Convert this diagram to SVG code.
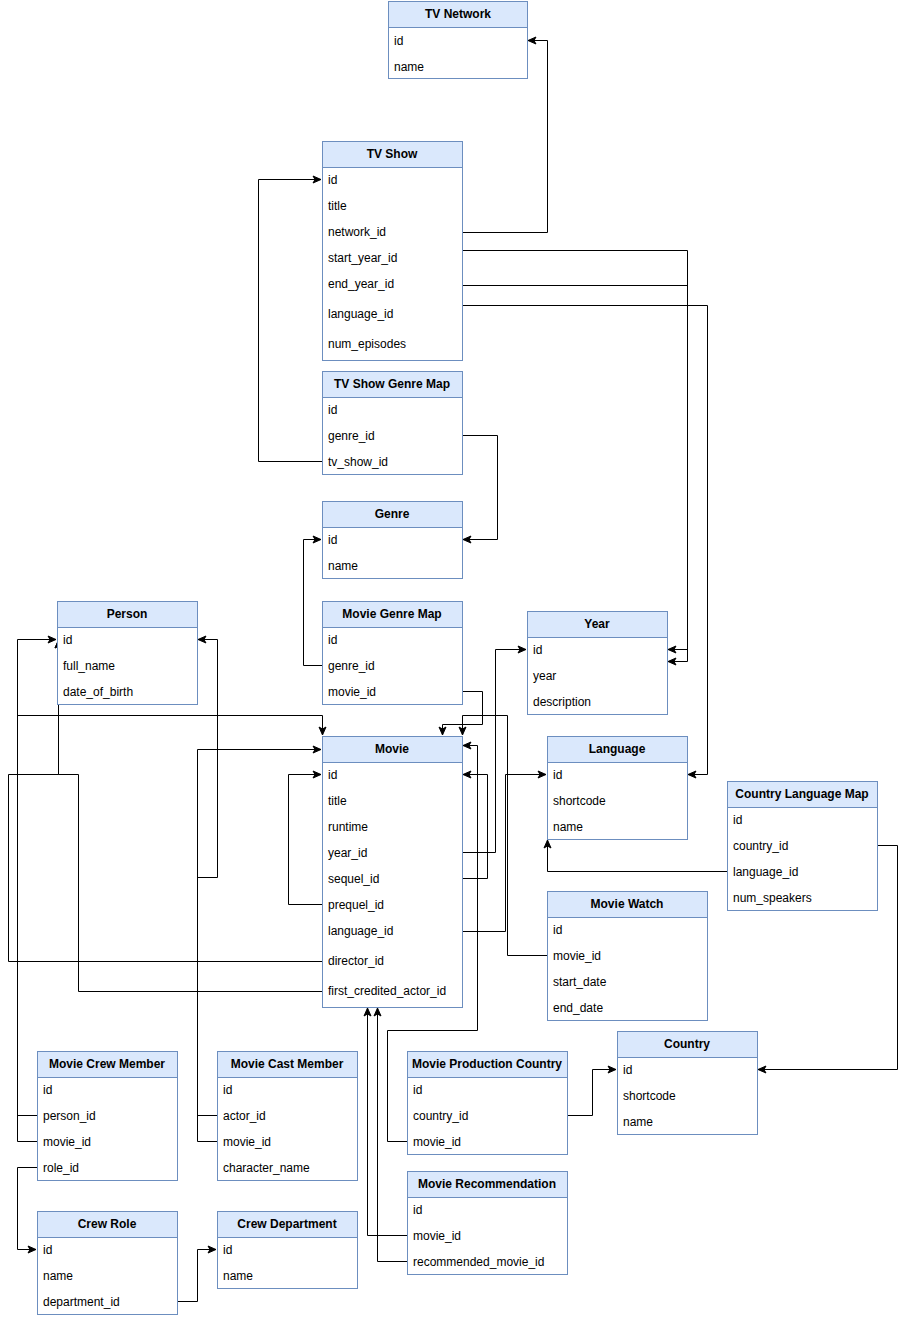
<svg xmlns="http://www.w3.org/2000/svg" width="906" height="1318" viewBox="0 0 906 1318">
<defs>
<marker id="arr" markerUnits="userSpaceOnUse" markerWidth="10" markerHeight="10" refX="9" refY="5" orient="auto">
<path d="M1,1.5 L9,5 L1,8.5 L3,5 Z" fill="#000" stroke="#000" stroke-width="1"/>
</marker>
<style>
.hd{fill:#dae8fc;stroke:#6c8ebf;stroke-width:1}
.bd{fill:#fff;stroke:#6c8ebf;stroke-width:1}
.t{font-family:"Liberation Sans",Arial,sans-serif;font-size:12px;fill:#000}
.h{font-family:"Liberation Sans",Arial,sans-serif;font-size:12px;font-weight:bold;fill:#000;text-anchor:middle}
.c{fill:none;stroke:#000;stroke-width:1;marker-end:url(#arr)}
</style>
</defs>
<rect width="906" height="1318" fill="#fff"/>

<g id="connectors">
<path class="c" d="M462.5,232.5 H547.5 V40.5 H528"/>
<path class="c" d="M462.5,250.5 H687.5 V649.5 H668"/>
<path class="c" d="M462.5,285.5 H687.5 V661.5 H668"/>
<path class="c" d="M462.5,305.5 H707.5 V774.5 H688"/>
<path class="c" d="M462.5,435.5 H497.5 V539.5 H463"/>
<path class="c" d="M322.5,461.5 H258.5 V179.5 H321"/>
<path class="c" d="M322.5,665.5 H303.5 V539.5 H321"/>
<path class="c" d="M462.5,691.5 H482.5 V724.5 H442.5 V735"/>
<path class="c" d="M547.5,955.5 H507.5 V715.5 H462.5 V735"/>
<path class="c" d="M462.5,852.5 H495.5 V649.5 H526"/>
<path class="c" d="M462.5,931.5 H505.5 V774.5 H546"/>
<path class="c" d="M462.5,878.5 H487.5 V774.5 H463"/>
<path class="c" d="M322.5,904.5 H288.5 V774.5 H321"/>
<path class="c" d="M322.5,961.5 H8.5 V774.5 H58.5 V640"/>
<path class="c" d="M322.5,991.5 H78.5 V774.5 H58.5 V640"/>
<path class="c" d="M407.5,1141.5 H387.5 V1030.5 H477.5 V745.5 H463"/>
<path class="c" d="M567.5,1115.5 H592.5 V1069.5 H616"/>
<path class="c" d="M877.5,845.5 H897.5 V1069.5 H758"/>
<path class="c" d="M727.5,871.5 H547.5 V840"/>
<path class="c" d="M37.5,1115.5 H17.5 V639.5 H56"/>
<path class="c" d="M37.5,1141.5 H17.5 V715.5 H322.5 V735"/>
<path class="c" d="M37.5,1167.5 H17.5 V1249.5 H36"/>
<path class="c" d="M217.5,1115.5 H197.5 V877.5 H217.5 V639.5 H198"/>
<path class="c" d="M217.5,1141.5 H197.5 V749.5 H321"/>
<path class="c" d="M177.5,1301.5 H197.5 V1249.5 H216"/>
<path class="c" d="M407.5,1235.5 H367.5 V1008"/>
<path class="c" d="M407.5,1261.5 H377.5 V1008"/>
</g>

<g id="tv_network">
<rect class="bd" x="388.5" y="1.5" width="139" height="77"/>
<rect class="hd" x="388.5" y="1.5" width="139" height="26"/>
<text class="h" x="458" y="18">TV Network</text>
<text class="t" x="394" y="45">id</text>
<text class="t" x="394" y="71">name</text>
</g>

<g id="tv_show">
<rect class="bd" x="322.5" y="141.5" width="140" height="219"/>
<rect class="hd" x="322.5" y="141.5" width="140" height="26"/>
<text class="h" x="392" y="158">TV Show</text>
<text class="t" x="328" y="184">id</text>
<text class="t" x="328" y="210">title</text>
<text class="t" x="328" y="236">network_id</text>
<text class="t" x="328" y="262">start_year_id</text>
<text class="t" x="328" y="288">end_year_id</text>
<text class="t" x="328" y="318">language_id</text>
<text class="t" x="328" y="348">num_episodes</text>
</g>

<g id="tv_show_genre_map">
<rect class="bd" x="322.5" y="371.5" width="140" height="103"/>
<rect class="hd" x="322.5" y="371.5" width="140" height="26"/>
<text class="h" x="392" y="388">TV Show Genre Map</text>
<text class="t" x="328" y="414">id</text>
<text class="t" x="328" y="440">genre_id</text>
<text class="t" x="328" y="466">tv_show_id</text>
</g>

<g id="genre">
<rect class="bd" x="322.5" y="501.5" width="140" height="77"/>
<rect class="hd" x="322.5" y="501.5" width="140" height="26"/>
<text class="h" x="392" y="518">Genre</text>
<text class="t" x="328" y="544">id</text>
<text class="t" x="328" y="570">name</text>
</g>

<g id="movie_genre_map">
<rect class="bd" x="322.5" y="601.5" width="140" height="103"/>
<rect class="hd" x="322.5" y="601.5" width="140" height="26"/>
<text class="h" x="392" y="618">Movie Genre Map</text>
<text class="t" x="328" y="644">id</text>
<text class="t" x="328" y="670">genre_id</text>
<text class="t" x="328" y="696">movie_id</text>
</g>

<g id="person">
<rect class="bd" x="57.5" y="601.5" width="140" height="103"/>
<rect class="hd" x="57.5" y="601.5" width="140" height="26"/>
<text class="h" x="127" y="618">Person</text>
<text class="t" x="63" y="644">id</text>
<text class="t" x="63" y="670">full_name</text>
<text class="t" x="63" y="696">date_of_birth</text>
</g>

<g id="year">
<rect class="bd" x="527.5" y="611.5" width="140" height="103"/>
<rect class="hd" x="527.5" y="611.5" width="140" height="26"/>
<text class="h" x="597" y="628">Year</text>
<text class="t" x="533" y="654">id</text>
<text class="t" x="533" y="680">year</text>
<text class="t" x="533" y="706">description</text>
</g>

<g id="movie">
<rect class="bd" x="322.5" y="736.5" width="140" height="271"/>
<rect class="hd" x="322.5" y="736.5" width="140" height="26"/>
<text class="h" x="392" y="753">Movie</text>
<text class="t" x="328" y="779">id</text>
<text class="t" x="328" y="805">title</text>
<text class="t" x="328" y="831">runtime</text>
<text class="t" x="328" y="857">year_id</text>
<text class="t" x="328" y="883">sequel_id</text>
<text class="t" x="328" y="909">prequel_id</text>
<text class="t" x="328" y="935">language_id</text>
<text class="t" x="328" y="965">director_id</text>
<text class="t" x="328" y="995">first_credited_actor_id</text>
</g>

<g id="language">
<rect class="bd" x="547.5" y="736.5" width="140" height="103"/>
<rect class="hd" x="547.5" y="736.5" width="140" height="26"/>
<text class="h" x="617" y="753">Language</text>
<text class="t" x="553" y="779">id</text>
<text class="t" x="553" y="805">shortcode</text>
<text class="t" x="553" y="831">name</text>
</g>

<g id="country_language_map">
<rect class="bd" x="727.5" y="781.5" width="150" height="129"/>
<rect class="hd" x="727.5" y="781.5" width="150" height="26"/>
<text class="h" x="802" y="798">Country Language Map</text>
<text class="t" x="733" y="824">id</text>
<text class="t" x="733" y="850">country_id</text>
<text class="t" x="733" y="876">language_id</text>
<text class="t" x="733" y="902">num_speakers</text>
</g>

<g id="movie_watch">
<rect class="bd" x="547.5" y="891.5" width="160" height="129"/>
<rect class="hd" x="547.5" y="891.5" width="160" height="26"/>
<text class="h" x="627" y="908">Movie Watch</text>
<text class="t" x="553" y="934">id</text>
<text class="t" x="553" y="960">movie_id</text>
<text class="t" x="553" y="986">start_date</text>
<text class="t" x="553" y="1012">end_date</text>
</g>

<g id="country">
<rect class="bd" x="617.5" y="1031.5" width="140" height="103"/>
<rect class="hd" x="617.5" y="1031.5" width="140" height="26"/>
<text class="h" x="687" y="1048">Country</text>
<text class="t" x="623" y="1074">id</text>
<text class="t" x="623" y="1100">shortcode</text>
<text class="t" x="623" y="1126">name</text>
</g>

<g id="movie_production_country">
<rect class="bd" x="407.5" y="1051.5" width="160" height="103"/>
<rect class="hd" x="407.5" y="1051.5" width="160" height="26"/>
<text class="h" x="487" y="1068">Movie Production Country</text>
<text class="t" x="413" y="1094">id</text>
<text class="t" x="413" y="1120">country_id</text>
<text class="t" x="413" y="1146">movie_id</text>
</g>

<g id="movie_recommendation">
<rect class="bd" x="407.5" y="1171.5" width="160" height="103"/>
<rect class="hd" x="407.5" y="1171.5" width="160" height="26"/>
<text class="h" x="487" y="1188">Movie Recommendation</text>
<text class="t" x="413" y="1214">id</text>
<text class="t" x="413" y="1240">movie_id</text>
<text class="t" x="413" y="1266">recommended_movie_id</text>
</g>

<g id="movie_crew_member">
<rect class="bd" x="37.5" y="1051.5" width="140" height="129"/>
<rect class="hd" x="37.5" y="1051.5" width="140" height="26"/>
<text class="h" x="107" y="1068">Movie Crew Member</text>
<text class="t" x="43" y="1094">id</text>
<text class="t" x="43" y="1120">person_id</text>
<text class="t" x="43" y="1146">movie_id</text>
<text class="t" x="43" y="1172">role_id</text>
</g>

<g id="movie_cast_member">
<rect class="bd" x="217.5" y="1051.5" width="140" height="129"/>
<rect class="hd" x="217.5" y="1051.5" width="140" height="26"/>
<text class="h" x="287" y="1068">Movie Cast Member</text>
<text class="t" x="223" y="1094">id</text>
<text class="t" x="223" y="1120">actor_id</text>
<text class="t" x="223" y="1146">movie_id</text>
<text class="t" x="223" y="1172">character_name</text>
</g>

<g id="crew_role">
<rect class="bd" x="37.5" y="1211.5" width="140" height="103"/>
<rect class="hd" x="37.5" y="1211.5" width="140" height="26"/>
<text class="h" x="107" y="1228">Crew Role</text>
<text class="t" x="43" y="1254">id</text>
<text class="t" x="43" y="1280">name</text>
<text class="t" x="43" y="1306">department_id</text>
</g>

<g id="crew_department">
<rect class="bd" x="217.5" y="1211.5" width="140" height="77"/>
<rect class="hd" x="217.5" y="1211.5" width="140" height="26"/>
<text class="h" x="287" y="1228">Crew Department</text>
<text class="t" x="223" y="1254">id</text>
<text class="t" x="223" y="1280">name</text>
</g>
</svg>
